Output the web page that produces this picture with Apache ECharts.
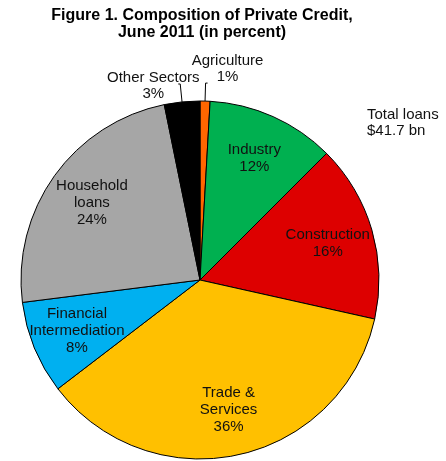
<!DOCTYPE html>
<html><head><meta charset="utf-8">
<script src="https://cdn.jsdelivr.net/npm/echarts@6/dist/echarts.min.js"></script>
<style>html,body{margin:0;padding:0;background:#fff}#c{width:446px;height:461px}</style>
</head><body><div id="c"></div>
<script>
const titleText = 'Figure 1. Composition of Private Credit,\nJune 2011 (in percent)';
const totalText = 'Total loans\n$41.7 bn';
const categories = ['Agriculture', 'Industry', 'Construction', 'Trade &\nServices', 'Financial\nIntermediation', 'Household\nloans', 'Other Sectors'];
const shares = [0.9, 11.6, 16.0, 36.1, 8.4, 23.8, 3.2];
const colors = ['#FF6600', '#00B050', '#DD0000', '#FFC000', '#00B0F0', '#A6A6A6', '#000000'];
const outsideLabels = ['Agriculture', 'Other Sectors'];

const font = 'Liberation Sans, Arial, sans-serif';
const fmt = p => p.name + '\n' + Math.round(p.value) + '%';

const mainData = categories.map((c, i) => ({
  name: c, value: shares[i],
  itemStyle: { color: colors[i] },
  label: { show: outsideLabels.includes(c) }
}));
const labelData = categories.map((c, i) => ({
  name: c, value: shares[i],
  label: { show: !outsideLabels.includes(c) }
}));

const chart = echarts.init(document.getElementById('c'), null, { renderer: 'canvas' });
chart.setOption({
  animation: false,
  title: [
    { text: titleText, left: 197, top: 2, textAlign: 'center',
      textStyle: { fontFamily: font, fontSize: 16, fontWeight: 'bold', color: '#000', lineHeight: 17 } },
    { text: totalText, left: 362, top: 102,
      textStyle: { fontFamily: font, fontSize: 15, fontWeight: 'normal', color: '#111', lineHeight: 16 } }
  ],
  series: [
    {
      type: 'pie', center: [200, 280], radius: 179, startAngle: 90, clockwise: true,
      avoidLabelOverlap: true, minAngle: 0,
      itemStyle: { borderColor: '#000', borderWidth: 1 },
      label: { position: 'outside', formatter: fmt, fontFamily: font, fontSize: 15, lineHeight: 16, color: '#111' },
      labelLine: { show: true, length: 18, length2: 2, lineStyle: { color: '#000', width: 1 } },
      labelLayout: p => p.dataIndex === 0
        ? { align: 'center', dx: 15, dy: -14 }
        : { align: 'center', dx: -20, dy: 2 },
      emphasis: { disabled: true },
      data: mainData
    },
    {
      type: 'pie', center: [200, 280], radius: [81, 179], startAngle: 90, clockwise: true,
      silent: true, z: 5,
      itemStyle: { color: 'rgba(0,0,0,0)', borderWidth: 0 },
      label: { position: 'inside', formatter: fmt, fontFamily: font, fontSize: 15, lineHeight: 17, color: '#111' },
      labelLine: { show: false },
      emphasis: { disabled: true },
      data: labelData
    }
  ]
});
</script></body></html>
